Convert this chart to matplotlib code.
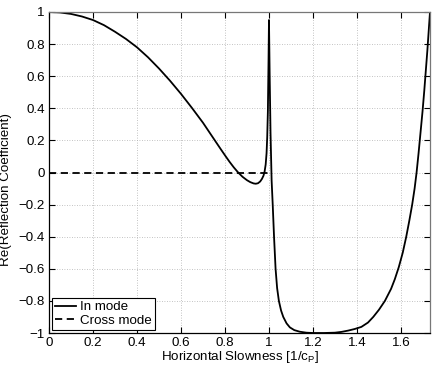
import matplotlib
matplotlib.use('Agg')
import matplotlib.pyplot as plt
from matplotlib.ticker import FuncFormatter

# In mode (solid)
in_x = [0.0, 0.05, 0.1, 0.15, 0.2, 0.25, 0.3, 0.35, 0.4, 0.45, 0.5, 0.55, 0.6,
        0.65, 0.7, 0.75, 0.78, 0.8, 0.82, 0.84, 0.86, 0.88, 0.9, 0.915, 0.93,
        0.94, 0.95, 0.96, 0.968, 0.975, 0.98, 0.985, 0.989, 0.992, 0.995,
        0.998, 1.0, 1.003, 1.007, 1.012, 1.017, 1.023, 1.03, 1.037, 1.045,
        1.055, 1.065, 1.08, 1.095, 1.115, 1.14, 1.17, 1.2, 1.25, 1.3, 1.33,
        1.36, 1.39, 1.42, 1.45, 1.474, 1.5, 1.527, 1.555, 1.572, 1.59, 1.608,
        1.624, 1.638, 1.651, 1.662, 1.671, 1.68, 1.689, 1.698, 1.706, 1.72,
        1.732]
in_y = [1.0, 0.997, 0.988, 0.972, 0.95, 0.918, 0.877, 0.832, 0.78, 0.718,
        0.648, 0.572, 0.49, 0.402, 0.31, 0.208, 0.147, 0.107, 0.068, 0.032,
        0.0, -0.027, -0.048, -0.06, -0.068, -0.07, -0.067, -0.056, -0.04,
        -0.02, 0.005, 0.05, 0.12, 0.22, 0.38, 0.7, 0.95, 0.62, 0.25, -0.05,
        -0.2, -0.4, -0.6, -0.72, -0.8, -0.86, -0.9, -0.94, -0.965, -0.982,
        -0.992, -0.998, -1.0, -1.0, -0.998, -0.993, -0.985, -0.975, -0.962,
        -0.935, -0.9, -0.855, -0.8, -0.725, -0.665, -0.59, -0.5, -0.4, -0.3,
        -0.2, -0.1, 0.0, 0.12, 0.25, 0.38, 0.51, 0.76, 1.0]

# Cross mode (dashed)
cross_x = [0.0, 1.0]
cross_y = [0.0, 0.0]

x_ticks = [0, 0.2, 0.4, 0.6, 0.8, 1.0, 1.2, 1.4, 1.6]
y_ticks = [-1, -0.8, -0.6, -0.4, -0.2, 0, 0.2, 0.4, 0.6, 0.8, 1]

plt.rcParams['font.family'] = ['Liberation Sans', 'DejaVu Sans']

fig = plt.figure(figsize=(4.36, 3.71), dpi=100)
ax = fig.add_axes([49 / 436, 38 / 371, 381 / 436, 321 / 371])

ax.plot(in_x, in_y, color='black', linewidth=1.3, label='In mode')
ax.plot(cross_x, cross_y, color='black', linewidth=1.3, linestyle=(0, (4, 2.5)),
        label='Cross mode')

ax.set_xlim(0, 1.732)
ax.set_ylim(-1, 1)
ax.set_xticks(x_ticks)
ax.set_yticks(y_ticks)
fmt = FuncFormatter(lambda v, p: ('%g' % v).replace('-', '\u2212'))
ax.xaxis.set_major_formatter(fmt)
ax.yaxis.set_major_formatter(fmt)
ax.tick_params(direction='in', top=True, right=True, labelsize=9.6, length=4,
               pad=3)
ax.grid(True, linestyle=(0, (1, 2)), color='#b0b0b0', linewidth=0.6)
for side in ['top', 'right']:
    ax.spines[side].set_color('#777777')
for s in ax.spines.values():
    s.set_linewidth(0.9)

ax.set_xlabel('Horizontal Slowness [1/c$_\\mathregular{P}$]', fontsize=9.6,
              labelpad=0)
ax.set_ylabel('Re(Reflection Coefficient)', fontsize=9.6)
ax.yaxis.set_label_coords(-0.097, 0.447)

leg = ax.legend(loc='lower left', fontsize=9.6, handlelength=1.6,
                handletextpad=0.3, borderpad=0.2, labelspacing=0.1,
                borderaxespad=0.25, fancybox=False, framealpha=1)
leg.get_frame().set_edgecolor('black')
leg.get_frame().set_linewidth(0.8)

fig.savefig('out.png', dpi=100)
